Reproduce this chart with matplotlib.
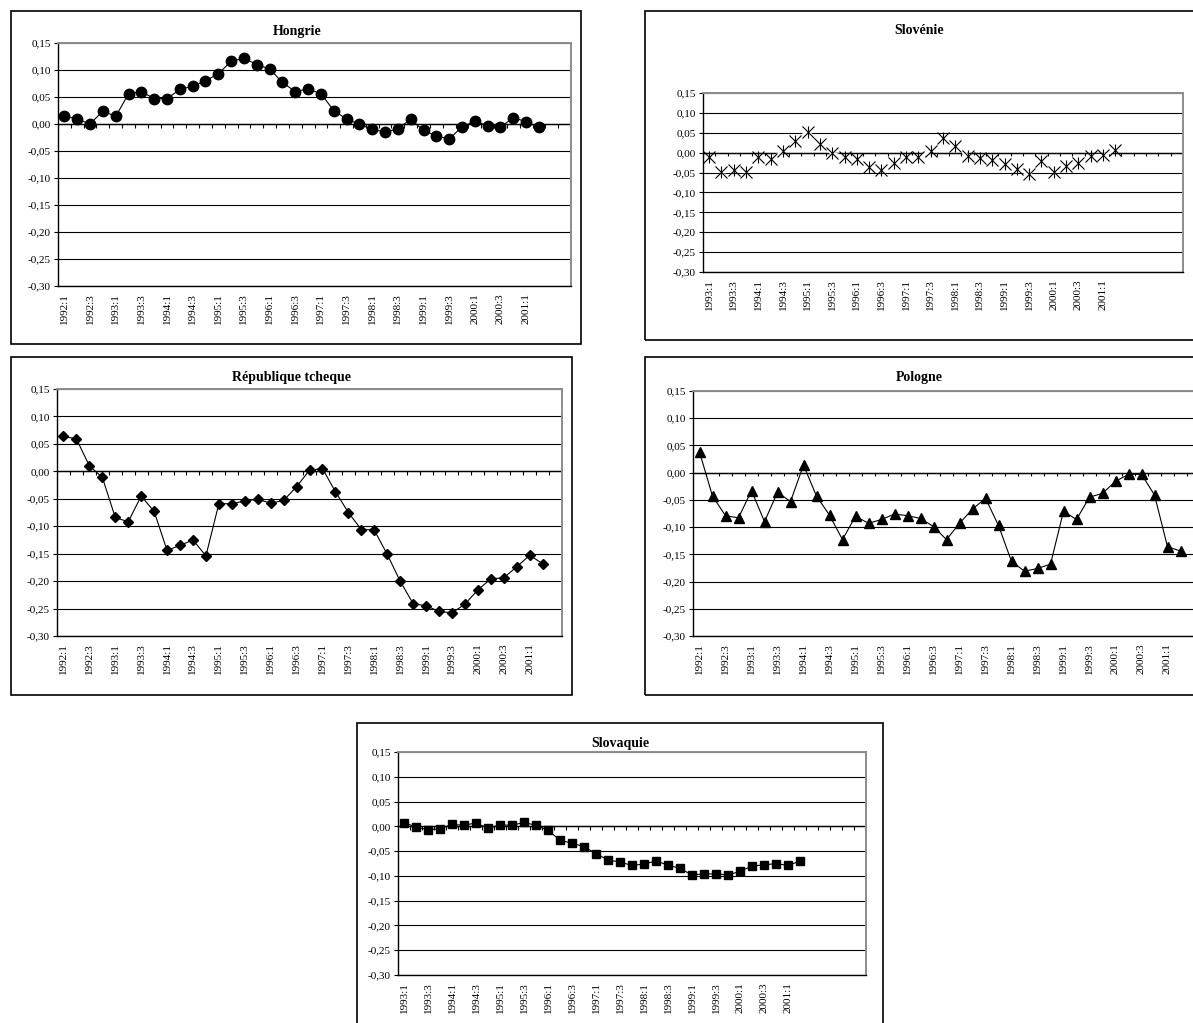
import numpy as np
import matplotlib.pyplot as plt
from matplotlib.patches import Rectangle

plt.rcParams['font.family'] = ['Liberation Serif', 'DejaVu Serif']

W, H = 1193, 1023
fig = plt.figure(figsize=(W / 100, H / 100), dpi=100)

# quarterly labels
q1992 = ['1992:1', '1992:2', '1992:3', '1992:4', '1993:1', '1993:2', '1993:3', '1993:4',
         '1994:1', '1994:2', '1994:3', '1994:4', '1995:1', '1995:2', '1995:3', '1995:4',
         '1996:1', '1996:2', '1996:3', '1996:4', '1997:1', '1997:2', '1997:3', '1997:4',
         '1998:1', '1998:2', '1998:3', '1998:4', '1999:1', '1999:2', '1999:3', '1999:4',
         '2000:1', '2000:2', '2000:3', '2000:4', '2001:1', '2001:2']
q1993 = q1992[4:]

hongrie = [0.015, 0.009, 0.000, 0.024, 0.014, 0.056, 0.060, 0.047, 0.047, 0.064,
           0.070, 0.080, 0.093, 0.116, 0.122, 0.110, 0.102, 0.077, 0.060, 0.065,
           0.056, 0.025, 0.009, 0.000, -0.010, -0.015, -0.009, 0.009, -0.012, -0.022,
           -0.028, -0.005, 0.005, -0.003, -0.006, 0.012, 0.004, -0.006]

slovenie = [-0.010, -0.049, -0.044, -0.048, -0.011, -0.016, 0.003, 0.030, 0.052, 0.023,
            -0.002, -0.012, -0.015, -0.036, -0.044, -0.026, -0.011, -0.012, 0.003, 0.037,
            0.018, -0.008, -0.014, -0.019, -0.028, -0.040, -0.054, -0.020, -0.048, -0.033,
            -0.026, -0.008, -0.007, 0.007]

tcheque = [0.064, 0.059, 0.010, -0.011, -0.084, -0.092, -0.045, -0.073, -0.144, -0.135,
           -0.125, -0.154, -0.059, -0.059, -0.054, -0.051, -0.058, -0.053, -0.028, 0.002,
           0.005, -0.037, -0.075, -0.106, -0.107, -0.151, -0.200, -0.241, -0.245, -0.255,
           -0.258, -0.242, -0.216, -0.196, -0.194, -0.174, -0.153, -0.168]

pologne = [0.038, -0.043, -0.079, -0.083, -0.033, -0.090, -0.036, -0.053, 0.014, -0.043,
           -0.078, -0.123, -0.080, -0.093, -0.086, -0.076, -0.079, -0.084, -0.099, -0.123,
           -0.093, -0.067, -0.047, -0.097, -0.163, -0.181, -0.176, -0.168, -0.071, -0.086,
           -0.045, -0.038, -0.016, -0.003, -0.003, -0.041, -0.136, -0.144]

slovaquie = [0.007, -0.001, -0.007, -0.005, 0.004, 0.002, 0.007, -0.004, 0.003, 0.002,
             0.008, 0.002, -0.008, -0.028, -0.034, -0.041, -0.055, -0.068, -0.072, -0.079,
             -0.076, -0.070, -0.078, -0.085, -0.098, -0.096, -0.096, -0.098, -0.091, -0.080,
             -0.078, -0.075, -0.079, -0.070]

yticks = [-0.30, -0.25, -0.20, -0.15, -0.10, -0.05, 0.00, 0.05, 0.10, 0.15]


def fig_rect(x0, y0, x1, y1):
    return [x0 / W, 1 - y1 / H, (x1 - x0) / W, (y1 - y0) / H]


def panel(frame, plot, title, title_xy, values, labels, ncat, marker):
    l, b, w, h = fig_rect(*frame)
    fig.patches.append(Rectangle((l, b), w, h, transform=fig.transFigure,
                                 fill=False, ec='black', lw=1.2))
    fig.text(title_xy[0] / W, 1 - title_xy[1] / H, title, ha='center', va='center',
             fontsize=10, fontweight='bold')

    ax = fig.add_axes(fig_rect(*plot))
    ax.set_xlim(0, ncat)
    ax.set_ylim(-0.30, 0.15)
    ax.set_axisbelow(True)

    ax.set_yticks(yticks)
    ax.set_yticklabels([('%.2f' % v).replace('.', ',').replace('-0,00', '0,00') for v in yticks])
    ax.tick_params(axis='y', direction='out', length=3, width=0.8, labelsize=8, pad=2)
    ax.yaxis.grid(True, color='black', lw=0.8)

    centers = np.arange(len(labels))[::2] + 0.5
    ax.set_xticks(centers)
    ax.set_xticklabels(labels[::2], rotation=90)
    ax.tick_params(axis='x', length=0, labelsize=8, pad=5)

    for s in ['left', 'bottom']:
        ax.spines[s].set_color('black')
        ax.spines[s].set_linewidth(1.0)
    for s in ['top', 'right']:
        ax.spines[s].set_color('#8c8c8c')
        ax.spines[s].set_linewidth(1.4)

    # category axis crossing at zero, ticks between categories
    tick_len = 3.5 / (plot[3] - plot[1]) * 0.45
    ax.axhline(0, color='black', lw=1.0, zorder=1)
    ax.vlines(np.arange(ncat + 1), -tick_len, 0, color='black', lw=0.8, zorder=1)

    x = np.arange(len(values)) + 0.5
    if marker == 'asterisk':
        ax.plot(x, values, color='white', lw=2.5, zorder=2)
        ax.plot(x, values, ls='none', marker='x', ms=8, mec='black', mew=0.8, zorder=3)
        ax.plot(x, values, ls='none', marker='|', ms=8.5, mec='black', mew=0.8, zorder=3)
    else:
        sizes = {'o': 7.5, 'D': 5.5, '^': 7.5, 's': 5.5}
        ax.plot(x, values, color='black', lw=0.8, marker=marker, ms=sizes[marker],
                mfc='black', mec='black', zorder=3)
    return ax


panel((11, 11, 581, 344), (58, 43, 571, 286), 'Hongrie', (297, 32),
      hongrie, q1992, 40, 'o')
panel((645, 11, 1215, 340), (703, 93, 1183, 272), 'Slovénie', (919, 30),
      slovenie, q1993, 39, 'asterisk')
panel((11, 357, 572, 695), (57, 389, 562, 636), 'République tcheque', (292, 378),
      tcheque, q1992, 39, 'D')
panel((645, 357, 1215, 695), (693, 391, 1213, 636), 'Pologne', (919, 378),
      pologne, q1992, 40, '^')
panel((357, 723, 883, 1045), (398, 752, 866, 975), 'Slovaquie', (620, 743),
      slovaquie, q1993, 39, 's')

fig.savefig('out.png', dpi=100)
